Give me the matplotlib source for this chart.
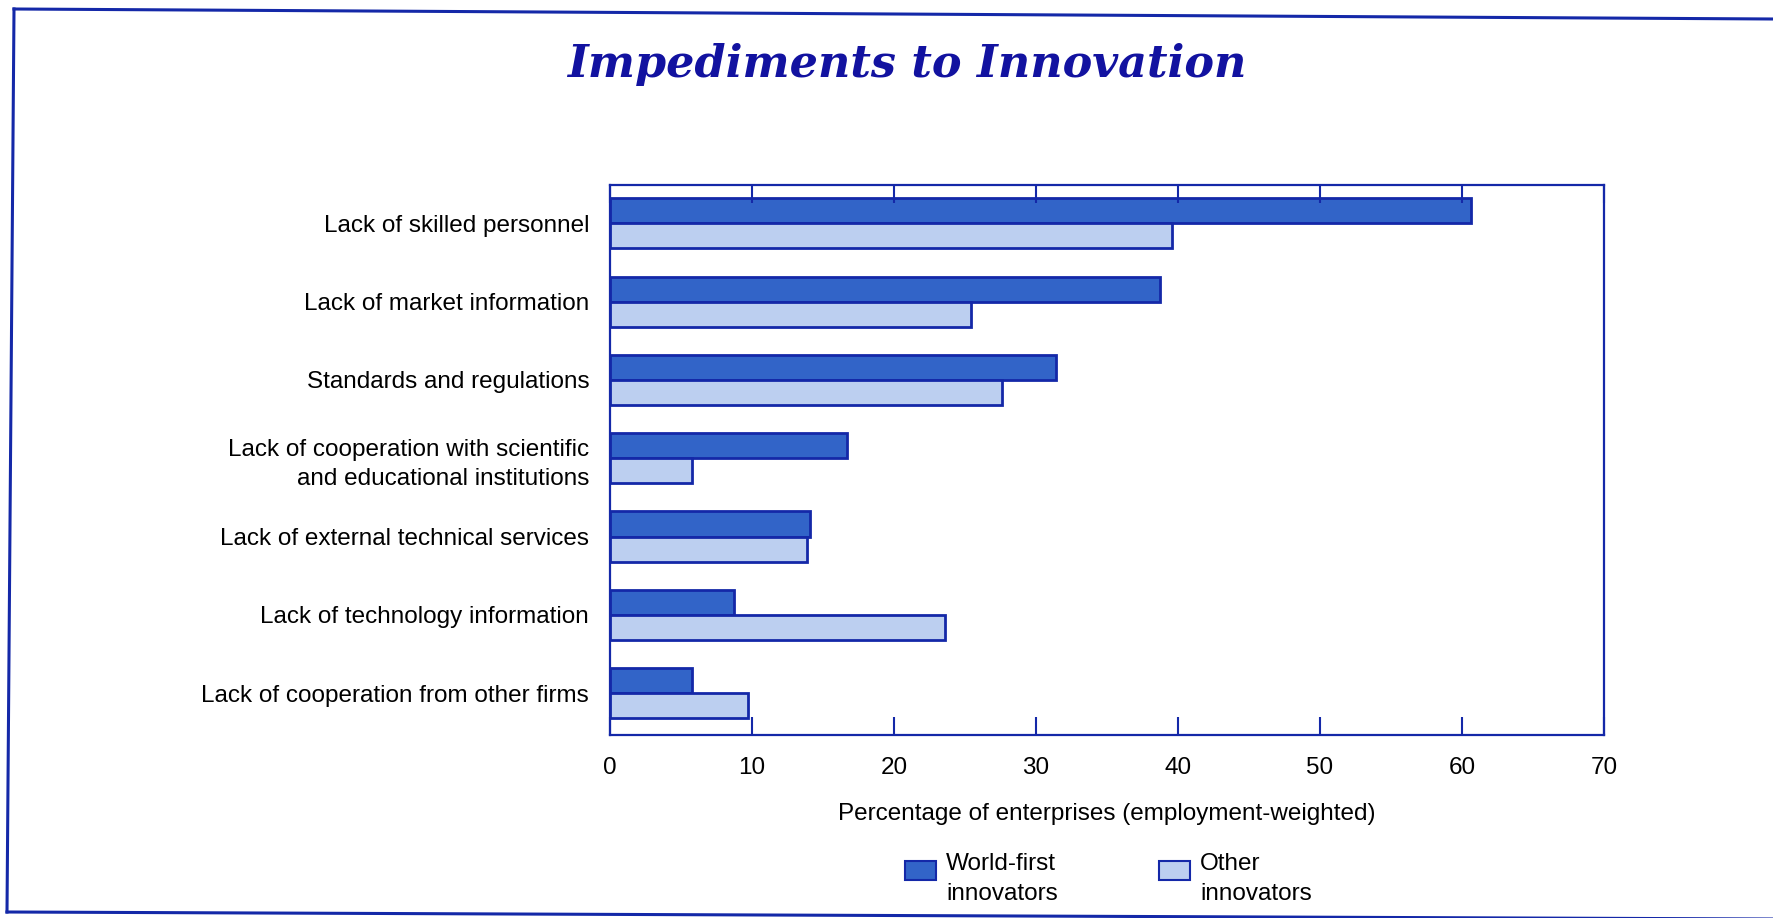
import matplotlib
matplotlib.use("Agg")
import matplotlib.pyplot as plt
import numpy as np
from matplotlib.lines import Line2D
from matplotlib.patches import Rectangle

# impediment categories, top to bottom
categories = [
    "Lack of skilled personnel",
    "Lack of market information",
    "Standards and regulations",
    "Lack of cooperation with scientific\nand educational institutions",
    "Lack of external technical services",
    "Lack of technology information",
    "Lack of cooperation from other firms",
]
world_first = [60.6, 38.7, 31.4, 16.7, 14.1, 8.7, 5.8]
other = [39.6, 25.4, 27.6, 5.8, 13.9, 23.6, 9.7]
xticks = [0, 10, 20, 30, 40, 50, 60, 70]
series_labels = ["World-first\ninnovators", "Other\ninnovators"]

W, H = 1773, 918
navy = "#1428a8"
dark_fill = "#3264c8"
light_fill = "#bccff0"
title_blue = "#1212a0"
fs = 17.5

plt.rcParams["font.family"] = ["Liberation Sans", "DejaVu Sans"]

fig = plt.figure(figsize=(W / 100, H / 100), dpi=100)
fig.patch.set_facecolor("white")


def fx(px):
    return px / W


def fy(py):
    return 1 - py / H


ax = fig.add_axes([fx(610), fy(735), fx(1604) - fx(610), fy(185) - fy(735)])

y = np.arange(len(categories))
h = 0.32
ax.barh(y - h / 2, world_first, height=h, color=dark_fill, edgecolor=navy, linewidth=2)
ax.barh(y + h / 2, other, height=h, color=light_fill, edgecolor=navy, linewidth=2)

ax.set_xlim(0, 70)
ax.set_ylim(6.535, -0.49)
ax.set_xticks(xticks)
ax.set_yticks(y)
ax.set_yticklabels(categories, fontsize=fs, linespacing=1.45)
ax.tick_params(axis="y", length=0, pad=15)
ax.tick_params(axis="x", direction="in", top=True, length=13, width=1.5,
               color=navy, labelsize=fs, pad=16)
for s in ax.spines.values():
    s.set_color(navy)
    s.set_linewidth(1.6)
ax.set_xlabel("Percentage of enterprises (employment-weighted)", fontsize=fs, labelpad=17)

fig.text(fx(907), fy(64), "Impediments to Innovation", ha="center", va="center",
         fontsize=32, fontweight="bold", fontstyle="italic",
         family="DejaVu Serif", color=title_blue)

# legend boxes drawn in figure pixels
for x0, fill, lab in [(905, dark_fill, series_labels[0]), (1159, light_fill, series_labels[1])]:
    fig.patches.append(Rectangle((fx(x0), fy(880)), fx(31), fy(861) - fy(880),
                                 transform=fig.transFigure, facecolor=fill,
                                 edgecolor=navy, linewidth=1.5))
    fig.text(fx(x0 + 41), fy(879), lab, ha="left", va="center", fontsize=fs,
             linespacing=1.45)

# outer border
for (x1, y1), (x2, y2) in [((14, 9), (1773, 19)), ((14, 9), (7, 912)), ((7, 912), (1773, 919))]:
    fig.lines.append(Line2D([fx(x1), fx(x2)], [fy(y1), fy(y2)], transform=fig.transFigure,
                            color=navy, linewidth=2.2))

fig.savefig("out.png", dpi=100, facecolor="white")
